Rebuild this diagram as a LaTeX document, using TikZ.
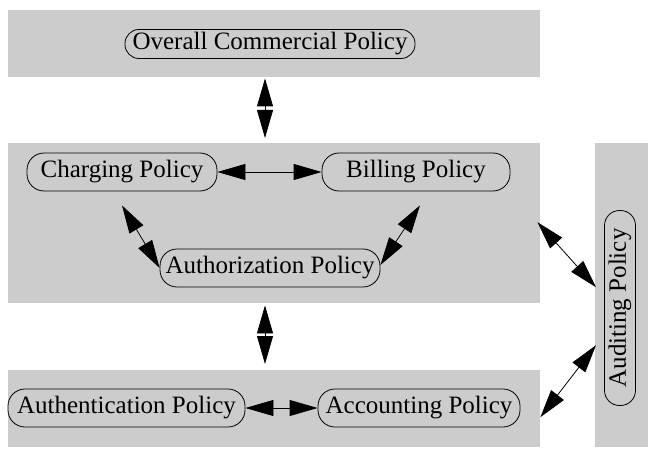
\documentclass[tikz,border=0pt]{standalone}
\usepackage{fontspec}
\setmainfont{Liberation Serif}
\usetikzlibrary{arrows.meta,calc}
\definecolor{boxgray}{RGB}{204,204,204}
\tikzset{
  box/.style={fill=boxgray, draw=none, inner sep=0pt, anchor=north west},
  pol/.style={draw=black, line width=0.8pt, rounded corners=17pt, fill=boxgray, inner sep=0pt, minimum height=38pt, font=\fontsize{25}{29}\selectfont},
  bigtip/.tip={Triangle[length=28pt,width=16pt]},
  dbl/.style={line width=0.8pt, bigtip-bigtip}
}
\begin{document}
\begin{tikzpicture}
\begin{scope}[x=1pt,y=-1pt]
\useasboundingbox (0,0) rectangle (650,449);
% grey panels
\node[box, minimum width=532pt, minimum height=67pt]  (topbox) at (8,10) {};
\node[box, minimum width=532pt, minimum height=160pt] (midbox) at (8,143) {};
\node[box, minimum width=532pt, minimum height=77pt]  (botbox) at (8,370) {};
\node[box, minimum width=53pt,  minimum height=304pt] (audbox) at (595,143) {};
% policies
\node[pol, minimum width=290pt, minimum height=29pt, rounded corners=14pt] (ov) at (270,44) {Overall Commercial Policy};
\node[pol, minimum width=190pt] (ch)  at (122,172) {Charging Policy};
\node[pol, minimum width=188pt] (bi)  at (416,172) {Billing Policy};
\node[pol, minimum width=220pt] (au)  at (270,268) {Authorization Policy};
\node[pol, minimum width=237pt] (ath) at (126.5,408) {Authentication Policy};
\node[pol, minimum width=202pt] (acc) at (419,408) {Accounting Policy};
\node[pol, rotate=90, minimum width=195pt, minimum height=31pt, rounded corners=15pt] (aud) at (620,308) {Auditing Policy};
% connectors
\draw[dbl] ($(topbox.south -| ov)+(-5,1)$) -- ($(midbox.north -| ov)+(-5,-5)$);
\draw[dbl] ($(midbox.south -| au)+(-5,2)$) -- ($(botbox.north -| au)+(-5,-6)$);
\draw[dbl] (ch.east) -- (bi.west);
\draw[dbl] ($(ch.south)+(0,14)$) -- (au.west);
\draw[dbl] ($(bi.south)+(4,14)$) -- ($(au.east)+(0,-3)$);
\draw[dbl] (ath.east) -- (acc.west);
\draw[dbl] ($(midbox.east)+(-3,-1)$) -- ($(audbox.west)+(1,-8)$);
\draw[dbl] ($(audbox.west)+(1,50)$) -- ($(botbox.east)+(0,8.5)$);
\end{scope}
\end{tikzpicture}
\end{document}
